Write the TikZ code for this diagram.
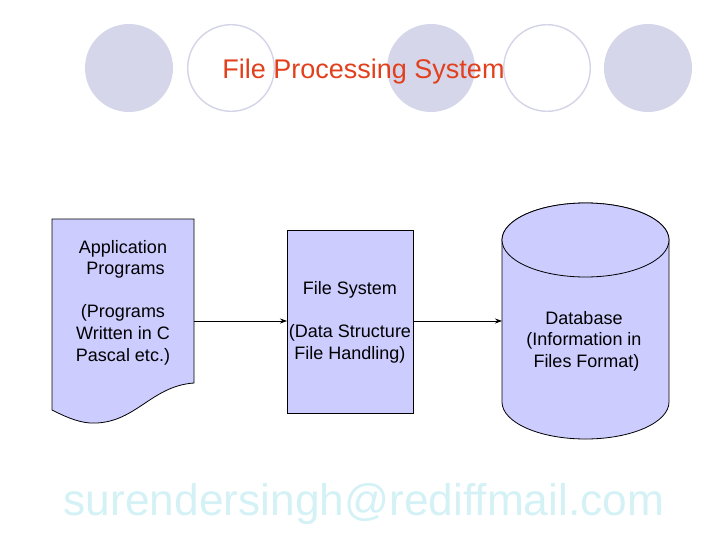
\documentclass[tikz,border=0pt]{standalone}
\usepackage{fontspec}
\setmainfont{Liberation Sans}
\usetikzlibrary{arrows.meta,shapes.geometric}
\definecolor{dotfill}{RGB}{214,214,234}
\definecolor{dotline}{RGB}{212,212,232}
\definecolor{shapefill}{RGB}{204,204,255}
\definecolor{titlered}{RGB}{226,64,28}
\definecolor{markcyan}{RGB}{212,242,246}
\tikzset{
  dotfilled/.style={fill=dotfill,draw=none},
  dotopen/.style={fill=white,draw=dotline,line width=1.4pt},
  shapebox/.style={fill=shapefill,draw=black,line width=0.8pt},
  boxtext/.style={align=center,inner sep=0pt,font=\fontsize{18}{21.6}\selectfont},
  conn/.style={line width=0.7pt,-{Stealth[length=7pt,width=5pt]}}
}
\begin{document}
\begin{tikzpicture}[x=1pt,y=-1pt]
\useasboundingbox (0,0) rectangle (728,546);
% decorative circles
\fill[dotfilled] (129,68) circle (44);
\filldraw[dotopen] (231,68) circle (43.3);
\fill[dotfilled] (431,68) circle (44);
\filldraw[dotopen] (547,68) circle (43.3);
\fill[dotfilled] (648,68) circle (44);
% title
\node[anchor=base,inner sep=0pt,text=titlered,font=\fontsize{27}{32}\selectfont] (title) at (363.5,78) {File Processing System};
% application programs (document shape)
\filldraw[shapebox] (52,219) -- (194,219) -- (194,383)
  .. controls (150,386) and (135,425) .. (90,423)
  .. controls (76,422) and (62,415) .. (52,410) -- cycle;
\coordinate (docR) at (194,321);
\node[boxtext] (app) at (123,302.5) {Application\\\ Programs\\[21.6pt](Programs\\Written in C\\Pascal etc.)};
% file system box
\filldraw[shapebox] (287,230) rectangle (413,413);
\coordinate (fsL) at (287,321);
\coordinate (fsR) at (413,321);
\node[boxtext] (fs) at (350,322) {File System\\[21.6pt](Data Structure\\File Handling)};
% database cylinder
\filldraw[shapebox] (502,240) -- (502,402) arc[start angle=180,end angle=0,x radius=83.5,y radius=37] -- (669,240) arc[start angle=0,end angle=-180,x radius=83.5,y radius=37] -- cycle;
\draw[shapebox] (585.5,240) ellipse[x radius=83.5,y radius=37];
\coordinate (dbL) at (502,321);
\node[boxtext] (db) at (584,341) {Database\\(Information in\\\ Files Format)};
% connectors
\draw[conn] (docR) -- (fsL);
\draw[conn] (fsR) -- (dbL);
% watermark
\node[anchor=base,inner sep=0pt,text=markcyan,font=\fontsize{44.3}{50}\selectfont] (mark) at (364,515) {surendersingh@rediffmail.com};
\end{tikzpicture}
\end{document}
